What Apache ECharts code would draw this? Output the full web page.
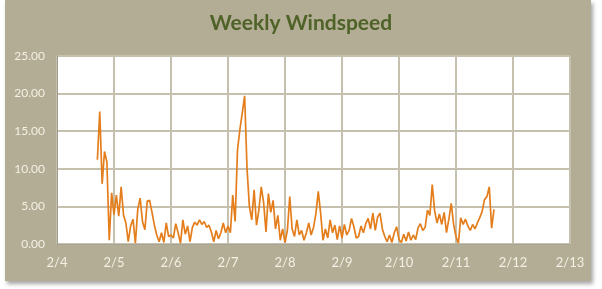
<!DOCTYPE html>
<html>
<head>
<meta charset="utf-8">
<script src="https://cdn.jsdelivr.net/npm/echarts@6/dist/echarts.min.js"></script>
<style>
  html, body { margin: 0; padding: 0; background: #ffffff; }
  #wrap { position: relative; width: 602px; height: 289px; overflow: hidden; }
  #panel { position: absolute; left: 5px; top: 0px; width: 586px; height: 281px; background: #b3ad95;
           box-shadow: 2px 3px 4px rgba(0,0,0,0.35); }
  #chart { position: absolute; left: 0; top: 0; width: 602px; height: 289px; }
</style>
</head>
<body>
<div id="wrap"><div id="panel"></div><div id="chart"></div></div>
<script>
// Tick labels along the x axis (one per day, starting 2/4 00:00)
var dayLabels = ['2/4','2/5','2/6','2/7','2/8','2/9','2/10','2/11','2/12','2/13'];
// First reading: hour 17 after 2/4 00:00, then hourly readings
var startHour = 17;
var windspeed = [
  11.2, 17.6, 8.0, 12.3, 10.9, 0.5, 6.8,
  3.9, 6.5, 3.7, 7.6, 3.9, 2.8, 0.3, 2.4, 3.3, 0.1, 4.6, 6.1, 3.0, 1.9, 5.7, 5.8, 4.2, 2.5, 1.2, 0.3, 1.5, 0.2, 2.8, 1.0,
  1.2, 0.8, 2.7, 1.5, 0.1, 3.2, 1.3, 2.4, 0.3, 2.2, 2.9, 2.5, 3.2, 2.6, 3.0, 2.2, 2.5, 1.6, 0.3, 1.8, 0.7, 1.5, 2.8, 1.5,
  2.4, 1.5, 6.5, 3.0, 12.5, 15.2, 17.4, 19.7, 10.1, 5.0, 3.2, 7.2, 2.5, 4.5, 7.6, 5.5, 1.6, 6.7, 4.2, 5.8, 2.0, 3.8, 0.5, 2.0,
  0.2, 1.8, 6.3, 2.0, 1.0, 3.2, 1.2, 1.8, 0.5, 1.5, 2.8, 1.2, 2.2, 4.0, 7.0, 4.1, 0.5, 2.0, 0.8, 3.2, 1.5, 2.5, 0.6, 2.4,
  0.8, 2.6, 1.2, 1.8, 3.4, 2.3, 0.8, 1.0, 2.4, 1.5, 2.7, 3.4, 2.0, 4.1, 1.8, 3.6, 4.1, 2.0, 1.0, 0.3, 1.2, 0.2, 1.5, 2.3,
  0.6, 0.2, 1.3, 0.4, 1.6, 0.5, 1.2, 0.6, 2.1, 2.7, 1.8, 2.2, 4.5, 3.8, 7.9, 4.4, 2.8, 4.0, 2.6, 4.2, 1.5, 3.3, 5.4, 2.6,
  1.0, 0.1, 3.5, 2.6, 3.3, 2.4, 1.8, 2.6, 2.0, 2.8, 3.5, 4.3, 5.9, 6.3, 7.6, 2.1, 4.6
];
var yTicks = [0, 5, 10, 15, 20, 25];

var seriesData = windspeed.map(function (v, i) { return [startHour + i, v]; });
var labelColor = '#f3f0e4';
var font = 'Lato, "Open Sans", sans-serif';

var chart = echarts.init(document.getElementById('chart'), null, { renderer: 'canvas' });
chart.setOption({
  backgroundColor: 'transparent',
  animation: false,
  title: {
    text: 'Weekly Windspeed',
    left: 'center',
    top: 8,
    textStyle: { color: '#4f6228', fontSize: 21, fontWeight: 'bold', fontFamily: font }
  },
  grid: {
    left: 57, right: 32, top: 56, bottom: 45,
    show: true, backgroundColor: '#ffffff', borderWidth: 0
  },
  xAxis: {
    type: 'value',
    min: 0,
    max: (dayLabels.length - 1) * 24,
    interval: 24,
    axisLine: { show: true, lineStyle: { color: '#a8a493', width: 1 } },
    axisTick: { show: false },
    splitLine: { show: true, lineStyle: { color: '#c6c1af', width: 2 } },
    axisLabel: {
      color: labelColor, fontSize: 13, fontFamily: font, margin: 12,
      formatter: function (v) { return dayLabels[Math.round(v / 24)] || ''; }
    }
  },
  yAxis: {
    type: 'value',
    min: yTicks[0],
    max: yTicks[yTicks.length - 1],
    interval: 5,
    axisLine: { show: true, lineStyle: { color: '#9e9a8a', width: 1 } },
    axisTick: { show: false },
    splitLine: { show: true, lineStyle: { color: '#c6c1af', width: 2 } },
    axisLabel: {
      color: labelColor, fontSize: 12, fontFamily: font, margin: 12,
      formatter: function (v) { return v.toFixed(2); }
    }
  },
  series: [{
    type: 'line',
    data: seriesData,
    showSymbol: false,
    symbol: 'none',
    lineStyle: { color: '#e47e1c', width: 1.7 },
    itemStyle: { color: '#e47e1c' }
  }]
});
</script>
</body>
</html>
